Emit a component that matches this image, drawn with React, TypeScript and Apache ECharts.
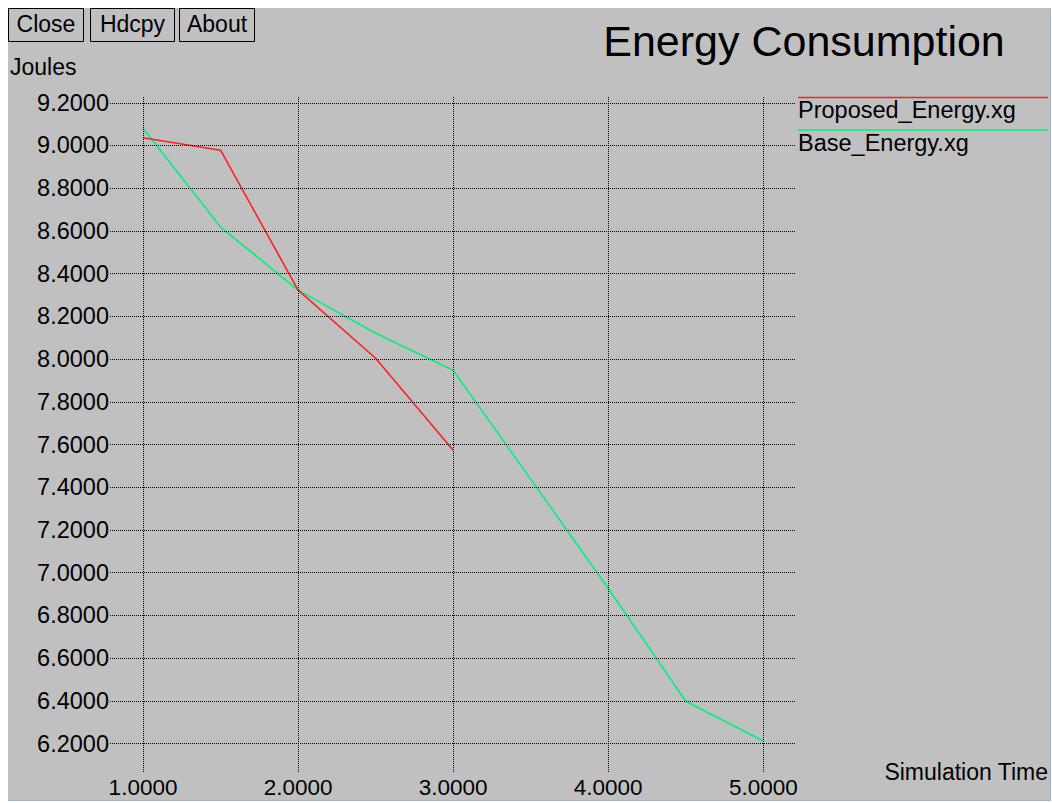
import React, { useEffect, useRef } from "react";
import * as echarts from "echarts";

const chartTitle = "Energy Consumption";
const yAxisTitle = "Joules";
const xAxisTitle = "Simulation Time";
const buttonLabels = ["Close", "Hdcpy", "About"];

const seriesNames = ["Proposed_Energy.xg", "Base_Energy.xg"];
const seriesColors = ["#ff1f1f", "#00f27c"];

const proposedX = [1.0, 1.5, 2.0, 2.5, 3.0];
const proposedY = [9.036, 8.978, 8.323, 8.004, 7.573];

const baseX = [1.0, 1.5, 2.0, 2.5, 3.0, 3.5, 4.0, 4.5, 5.0];
const baseY = [9.081, 8.618, 8.323, 8.121, 7.948, 7.438, 6.927, 6.398, 6.212];

const xTicks = [1, 2, 3, 4, 5];
const yTicks = [6.2, 6.4, 6.6, 6.8, 7.0, 7.2, 7.4, 7.6, 7.8, 8.0, 8.2, 8.4, 8.6, 8.8, 9.0, 9.2];

const FONT = "Liberation Sans";

export default function App() {
  const ref = useRef<HTMLDivElement>(null);

  useEffect(() => {
    if (!ref.current) return;
    const chart = echarts.init(ref.current, undefined, { renderer: "svg" });

    const pairs = (xs: number[], ys: number[]) => xs.map((x, i) => [x, ys[i]]);

    const gridLineStyle = { color: "#000", type: [1, 1] as any, width: 1 };

    const buttonGeom = [
      { x: 0.5, w: 75 },
      { x: 82.5, w: 84 },
      { x: 171.5, w: 75 },
    ];

    const graphics: any[] = [];
    buttonLabels.forEach((lbl, i) => {
      const g = buttonGeom[i];
      graphics.push({
        type: "rect",
        shape: { x: g.x, y: 0.5, width: g.w, height: 33 },
        style: { fill: "none", stroke: "#000", lineWidth: 1 },
      });
      graphics.push({
        type: "text",
        x: g.x + g.w / 2,
        y: 16,
        style: { text: lbl, fontSize: 23, fontFamily: FONT, fill: "#000", align: "center", verticalAlign: "middle" },
      });
    });
    graphics.push({
      type: "text",
      x: 796,
      y: 33,
      style: { text: chartTitle, fontSize: 43, fontFamily: FONT, fill: "#000", align: "center", verticalAlign: "middle" },
    });
    graphics.push({
      type: "text",
      x: 2,
      y: 59,
      style: { text: yAxisTitle, fontSize: 23, fontFamily: FONT, fill: "#000", align: "left", verticalAlign: "middle" },
    });
    graphics.push({
      type: "text",
      x: 1040,
      y: 764,
      style: { text: xAxisTitle, fontSize: 23, fontFamily: FONT, fill: "#000", align: "right", verticalAlign: "middle" },
    });
    seriesNames.forEach((nm, i) => {
      const ly = 89.5 + i * 32.5;
      graphics.push({
        type: "line",
        shape: { x1: 790, y1: ly, x2: 1040, y2: ly },
        style: { stroke: seriesColors[i], lineWidth: 1.5 },
      });
      graphics.push({
        type: "text",
        x: 790,
        y: ly + 12.5,
        style: { text: nm, fontSize: 23.5, fontFamily: FONT, fill: "#000", align: "left", verticalAlign: "middle" },
      });
    });

    chart.setOption({
      animation: false,
      backgroundColor: "#c0c0c0",
      grid: { left: 102, top: 89, width: 686, height: 675 },
      xAxis: { type: "value", min: 0.787, max: 5.211, show: false },
      yAxis: { type: "value", min: 6.067, max: 9.227, show: false },
      graphic: graphics,
      series: [
        {
          type: "line",
          data: [],
          silent: true,
          z: 1,
          markLine: {
            silent: true,
            symbol: ["none", "none"],
            lineStyle: gridLineStyle,
            label: {
              show: true,
              position: "start",
              distance: 1,
              color: "#000",
              fontSize: 23.5,
              fontFamily: FONT,
              formatter: (p: any) => Number(p.value).toFixed(4),
            },
            data: yTicks.map((v) => ({ yAxis: v })),
          },
        },
        {
          type: "line",
          data: [],
          silent: true,
          z: 1,
          markLine: {
            silent: true,
            symbol: ["none", "none"],
            lineStyle: gridLineStyle,
            label: {
              show: true,
              position: "start",
              distance: 7,
              color: "#000",
              fontSize: 22.5,
              lineHeight: 17,
              fontFamily: FONT,
              formatter: (p: any) => Number(p.value).toFixed(4),
            },
            data: xTicks.map((v) => ({ xAxis: v })),
          },
        },
        {
          name: seriesNames[0],
          type: "line",
          data: pairs(proposedX, proposedY),
          showSymbol: false,
          z: 3,
          lineStyle: { color: seriesColors[0], width: 1.6 },
          itemStyle: { color: seriesColors[0] },
        },
        {
          name: seriesNames[1],
          type: "line",
          data: pairs(baseX, baseY),
          showSymbol: false,
          z: 2,
          lineStyle: { color: seriesColors[1], width: 1.6 },
          itemStyle: { color: seriesColors[1] },
        },
      ],
    });

    return () => chart.dispose();
  }, []);

  return (
    <div
      ref={ref}
      style={{
        position: "fixed",
        left: 8,
        top: 8,
        width: 1042,
        height: 792,
        background: "#c0c0c0",
        borderRight: "1px solid #a3b3c3",
        borderBottom: "1px solid #a3b3c3",
      }}
    />
  );
}
